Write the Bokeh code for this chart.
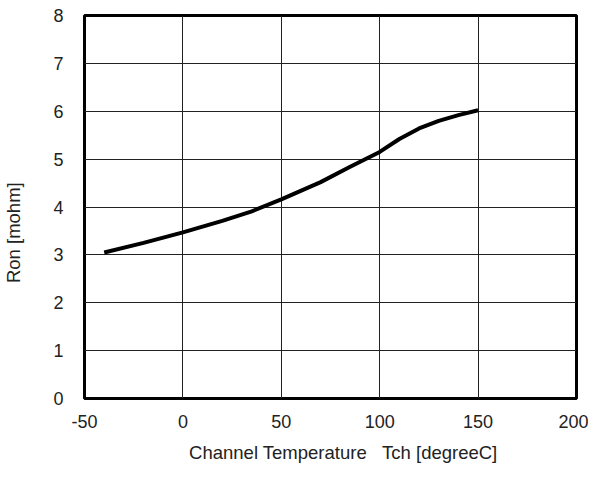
from bokeh.plotting import figure
from bokeh.models import Range1d, FixedTicker
from bokeh.embed import file_html
from bokeh.resources import INLINE

temp_c = [-40, -20, 0, 20, 35, 50, 70, 85, 100, 110, 120, 130, 140, 150]
ron_mohm = [3.05, 3.25, 3.47, 3.71, 3.91, 4.16, 4.52, 4.84, 5.15, 5.42, 5.64, 5.80, 5.92, 6.02]
x_ticks = [-50, 0, 50, 100, 150, 200]
y_ticks = [0, 1, 2, 3, 4, 5, 6, 7, 8]

FONT = "Liberation Sans"
NB = "\u00a0"

p = figure(width=588, height=465, output_backend="svg", toolbar_location=None,
           x_range=Range1d(-50, 200), y_range=Range1d(0, 8),
           min_border_left=84, min_border_right=12, min_border_top=15, min_border_bottom=66)

p.line(temp_c, ron_mohm, line_color="black", line_width=4, line_join="round")

p.outline_line_color = "black"
p.outline_line_width = 3
p.outline_line_alpha = 1.0

for ax in (p.xaxis[0], p.yaxis[0]):
    ax.axis_line_color = None
    ax.major_tick_line_color = None
    ax.minor_tick_line_color = None
    ax.major_label_text_font = FONT
    ax.major_label_text_font_size = "18px"
    ax.major_label_text_color = "#222222"
    ax.axis_label_text_font = FONT
    ax.axis_label_text_font_size = "18.5px"
    ax.axis_label_text_font_style = "normal"
    ax.axis_label_text_color = "#222222"

p.xaxis.ticker = FixedTicker(ticks=x_ticks)
p.yaxis.ticker = FixedTicker(ticks=y_ticks)
p.xaxis.major_label_overrides = {t: str(t) for t in x_ticks}
p.xaxis.axis_label = NB * 5 + "Channel Temperature" + NB * 3 + "Tch [degreeC]"
p.yaxis.axis_label = "Ron [mohm]" + NB * 10
p.xaxis.major_label_standoff = 10
p.yaxis.major_label_standoff = 15
p.xaxis.axis_label_standoff = 11
p.yaxis.axis_label_standoff = 26

for g in (p.xgrid[0], p.ygrid[0]):
    g.grid_line_color = "#222222"
    g.grid_line_width = 1
    g.grid_line_alpha = 1.0

open("out.html", "w").write(file_html(p, INLINE))
